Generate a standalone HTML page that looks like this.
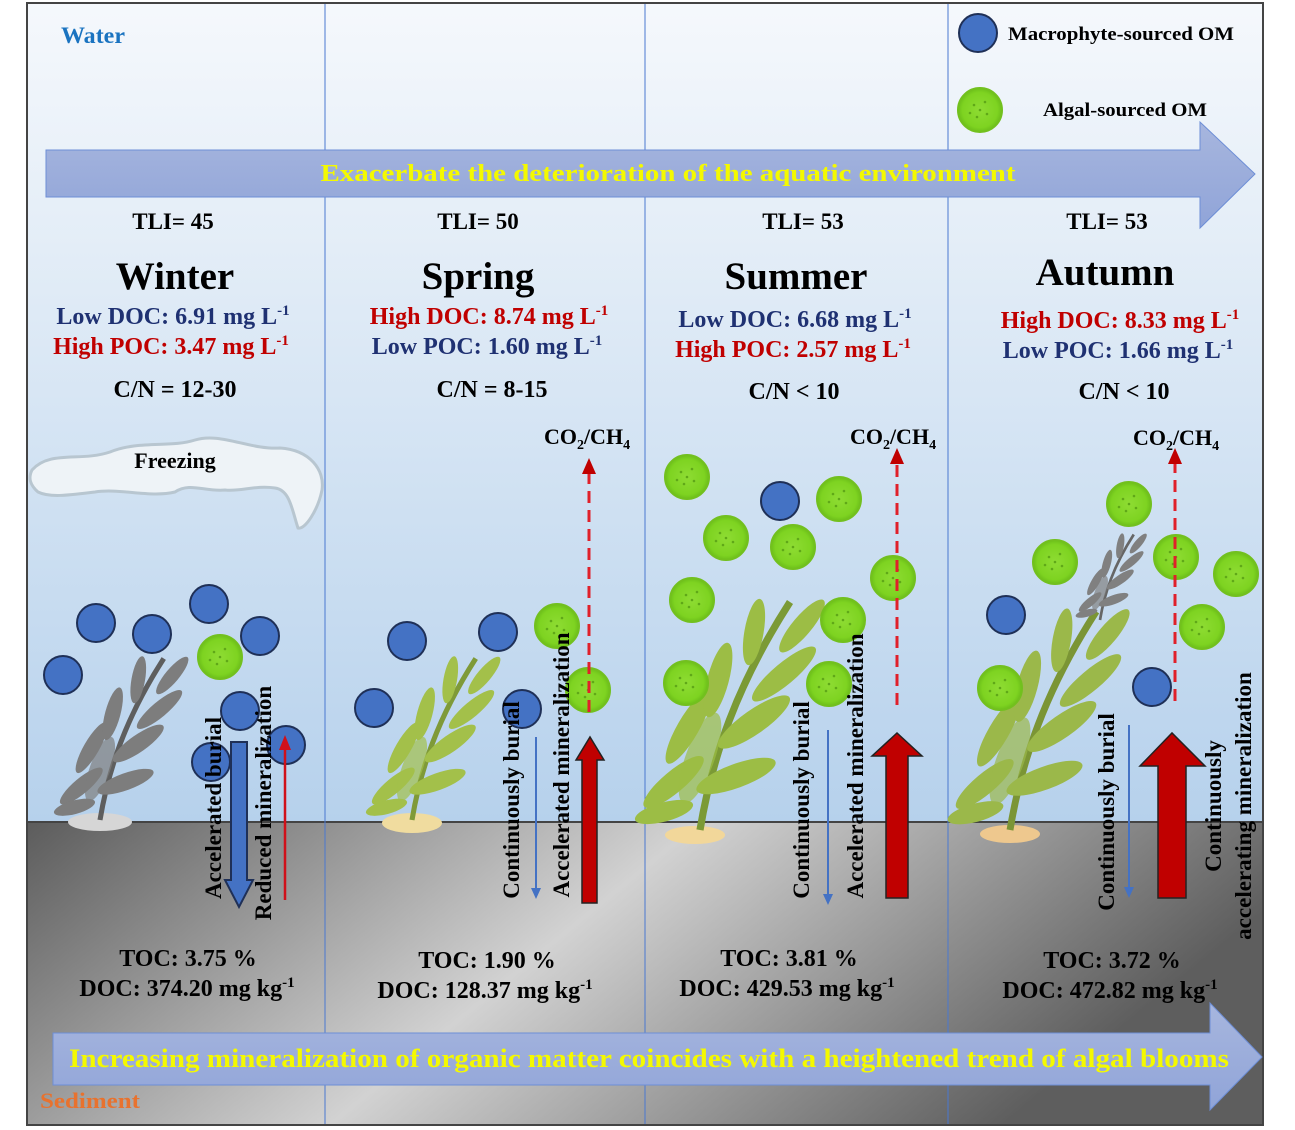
<!DOCTYPE html>
<html><head><meta charset="utf-8"><style>
html,body{margin:0;padding:0;background:#fff;}
svg{display:block;}
text{font-family:"Liberation Serif",serif;font-weight:bold;}
</style></head><body>
<svg width="1295" height="1130" viewBox="0 0 1295 1130" xmlns="http://www.w3.org/2000/svg">
<defs>
<linearGradient id="wat" x1="0" y1="0" x2="0" y2="1">
<stop offset="0" stop-color="#f5f8fc"/><stop offset="0.3" stop-color="#e3edf7"/><stop offset="1" stop-color="#b6d1ec"/></linearGradient>
<linearGradient id="sed" x1="0" y1="0" x2="1" y2="0.3">
<stop offset="0" stop-color="#5c5c5c"/><stop offset="0.5" stop-color="#d2d2d2"/><stop offset="1" stop-color="#5e5e5e"/></linearGradient>
<linearGradient id="arr" x1="0" y1="0" x2="0" y2="1">
<stop offset="0" stop-color="#a7b6de"/><stop offset="1" stop-color="#90a4d8"/></linearGradient>
<radialGradient id="alg"><stop offset="0" stop-color="#8edc33"/><stop offset="0.8" stop-color="#7ed321"/><stop offset="1" stop-color="#6cbf1a"/></radialGradient>
<g id="G"><circle r="22" fill="url(#alg)" stroke="#72c01e" stroke-width="2"/><circle cx="-6" cy="-5" r="1.3" fill="#5fa818"/><circle cx="5" cy="-8" r="1.3" fill="#5fa818"/><circle cx="7" cy="4" r="1.3" fill="#5fa818"/><circle cx="-3" cy="7" r="1.3" fill="#5fa818"/><circle cx="0" cy="0" r="1.3" fill="#5fa818"/><circle cx="-10" cy="3" r="1.3" fill="#5fa818"/></g>
<g id="B"><circle r="19" fill="#4472c4" stroke="#1f3057" stroke-width="2"/></g>
<g id="P">
<path d="M0,0 C10,-60 30,-120 75,-190" stroke="currentColor" stroke-width="6" fill="none"/>
<ellipse cx="-22" cy="-40" rx="32" ry="9" transform="rotate(-40 -22 -40)"/>
<ellipse cx="30" cy="-45" rx="35" ry="10" transform="rotate(-20 30 -45)"/>
<ellipse cx="-10" cy="-85" rx="34" ry="9" transform="rotate(-60 -10 -85)"/>
<ellipse cx="45" cy="-90" rx="36" ry="10" transform="rotate(-35 45 -90)"/>
<ellipse cx="15" cy="-125" rx="32" ry="9" transform="rotate(-75 15 -125)"/>
<ellipse cx="70" cy="-130" rx="34" ry="9" transform="rotate(-40 70 -130)"/>
<ellipse cx="45" cy="-165" rx="28" ry="8" transform="rotate(-80 45 -165)"/>
<ellipse cx="85" cy="-170" rx="28" ry="8" transform="rotate(-50 85 -170)"/>
<ellipse cx="-30" cy="-15" rx="25" ry="8" transform="rotate(-15 -30 -15)"/>
<ellipse cx="0" cy="-60" rx="40" ry="12" transform="rotate(-70 0 -60)" opacity="0.7"/>
</g>
</defs>
<rect x="27" y="3" width="1236" height="820" fill="url(#wat)"/>
<rect x="27" y="822" width="1236" height="303" fill="url(#sed)"/>
<line x1="27" y1="822" x2="1263" y2="822" stroke="#444" stroke-width="2"/>
<g stroke="#4a78d0" stroke-width="1"><line x1="325" y1="3" x2="325" y2="1125"/><line x1="645" y1="3" x2="645" y2="1125"/><line x1="948" y1="3" x2="948" y2="1125"/></g>
<rect x="27" y="3" width="1236" height="1122" fill="none" stroke="#444" stroke-width="2"/>

<text x="61" y="43" font-size="23" fill="#1a73c0" textLength="64" lengthAdjust="spacingAndGlyphs">Water</text>
<text x="40" y="1108" font-size="22" fill="#e8722e" textLength="100" lengthAdjust="spacingAndGlyphs">Sediment</text>

<use href="#B" x="978" y="33"/><text x="1008" y="40" font-size="19" textLength="226" lengthAdjust="spacingAndGlyphs">Macrophyte-sourced OM</text>
<use href="#G" x="980" y="110"/><text x="1043" y="116" font-size="19" textLength="164" lengthAdjust="spacingAndGlyphs">Algal-sourced OM</text>

<path d="M46,150 H1200 V122 L1255,174 L1200,228 V197 H46 Z" fill="url(#arr)" stroke="#6d8ed6" stroke-width="1"/>
<text x="668" y="181" font-size="24" fill="#f4f900" text-anchor="middle" textLength="695" lengthAdjust="spacingAndGlyphs">Exacerbate the deterioration of the aquatic environment</text>
<path d="M53,1033 H1210 V1003 L1262,1057 L1210,1110 V1085 H53 Z" fill="url(#arr)" stroke="#6d8ed6" stroke-width="1"/>
<text x="649" y="1067" font-size="26" fill="#f4f900" text-anchor="middle" textLength="1160" lengthAdjust="spacingAndGlyphs">Increasing mineralization of organic matter coincides with a heightened trend of algal blooms</text>

<g font-size="23" text-anchor="middle">
<text x="173" y="229">TLI= 45</text><text x="478" y="229">TLI= 50</text><text x="803" y="229">TLI= 53</text><text x="1107" y="229">TLI= 53</text>
</g>
<g font-size="39" text-anchor="middle">
<text x="175" y="289">Winter</text><text x="478" y="289">Spring</text><text x="796" y="289">Summer</text><text x="1105" y="285">Autumn</text>
</g>
<g font-size="24" text-anchor="middle">
<text x="173" y="324" fill="#1f3172">Low DOC: 6.91 mg L<tspan font-size="15" dy="-9">-1</tspan></text>
<text x="171" y="354" fill="#c00000">High POC: 3.47 mg L<tspan font-size="15" dy="-9">-1</tspan></text>
<text x="489" y="324" fill="#c00000">High DOC: 8.74 mg L<tspan font-size="15" dy="-9">-1</tspan></text>
<text x="487" y="354" fill="#1f3172">Low POC: 1.60 mg L<tspan font-size="15" dy="-9">-1</tspan></text>
<text x="795" y="327" fill="#1f3172">Low DOC: 6.68 mg L<tspan font-size="15" dy="-9">-1</tspan></text>
<text x="793" y="357" fill="#c00000">High POC: 2.57 mg L<tspan font-size="15" dy="-9">-1</tspan></text>
<text x="1120" y="328" fill="#c00000">High DOC: 8.33 mg L<tspan font-size="15" dy="-9">-1</tspan></text>
<text x="1118" y="358" fill="#1f3172">Low POC: 1.66 mg L<tspan font-size="15" dy="-9">-1</tspan></text>
<text x="175" y="397">C/N = 12-30</text><text x="492" y="397">C/N = 8-15</text><text x="794" y="399">C/N &lt; 10</text><text x="1124" y="399">C/N &lt; 10</text>
</g>
<g font-size="22" text-anchor="middle">
<text x="587" y="444">CO<tspan font-size="14" dy="5">2</tspan><tspan dy="-5">/CH</tspan><tspan font-size="14" dy="5">4</tspan></text>
<text x="893" y="444">CO<tspan font-size="14" dy="5">2</tspan><tspan dy="-5">/CH</tspan><tspan font-size="14" dy="5">4</tspan></text>
<text x="1176" y="445">CO<tspan font-size="14" dy="5">2</tspan><tspan dy="-5">/CH</tspan><tspan font-size="14" dy="5">4</tspan></text>
</g>

<!-- ice -->
<path d="M32,470 C50,450 80,462 110,452 C140,440 170,448 195,440 C220,432 250,450 280,448 C310,450 325,470 322,490 C318,510 305,530 298,528 C292,510 290,490 275,488 C255,485 240,492 225,490 C205,492 190,482 175,492 C150,498 120,488 95,492 C70,495 50,498 38,492 C30,485 28,478 32,470 Z" fill="#eef3f7" stroke="#b8c6d0" stroke-width="3"/>
<text x="175" y="468" font-size="22" text-anchor="middle">Freezing</text>

<!-- plants -->
<ellipse cx="100" cy="822" rx="32" ry="9" fill="#d6d6d6"/>
<g fill="#7d7d7d" color="#5e5e5e" transform="translate(100,820) scale(0.85)"><use href="#P"/></g>
<ellipse cx="412" cy="823" rx="30" ry="10" fill="#f0dc9f"/>
<g fill="#a3c04a" color="#7f9a38" transform="translate(412,820) scale(0.85)"><use href="#P"/></g>
<ellipse cx="695" cy="835" rx="30" ry="9" fill="#f2d79a"/>
<g fill="#9cbd45" color="#7b9a35" transform="translate(700,830) scale(1.2)"><use href="#P"/></g>
<ellipse cx="1010" cy="834" rx="30" ry="9" fill="#eec88e"/>
<g fill="#9bb84a" color="#7b9535" transform="translate(1010,830) scale(1.15)"><use href="#P"/></g>
<g fill="#808080" color="#666" transform="translate(1100,620) scale(0.45)"><use href="#P"/></g>

<use href="#B" x="96" y="623"/><use href="#B" x="152" y="634"/><use href="#B" x="209" y="604"/><use href="#B" x="260" y="636"/><use href="#B" x="63" y="675"/><use href="#B" x="240" y="711"/><use href="#B" x="286" y="745"/><use href="#B" x="211" y="762"/><use href="#G" x="220" y="657"/>
<use href="#B" x="407" y="641"/><use href="#B" x="498" y="632"/><use href="#B" x="374" y="708"/><use href="#B" x="522" y="709"/><use href="#G" x="557" y="626"/><use href="#G" x="588" y="690"/>
<use href="#G" x="687" y="477"/><use href="#G" x="839" y="499"/><use href="#G" x="726" y="538"/><use href="#G" x="793" y="547"/><use href="#G" x="692" y="600"/><use href="#G" x="893" y="578"/><use href="#G" x="843" y="620"/><use href="#G" x="686" y="683"/><use href="#G" x="829" y="684"/><use href="#B" x="780" y="501"/>
<use href="#G" x="1129" y="504"/><use href="#G" x="1055" y="562"/><use href="#G" x="1176" y="557"/><use href="#G" x="1236" y="574"/><use href="#G" x="1202" y="627"/><use href="#G" x="1000" y="688"/><use href="#B" x="1006" y="615"/><use href="#B" x="1152" y="687"/>

<g stroke="#e0202a" stroke-width="3" stroke-dasharray="12,7">
<line x1="589" y1="712" x2="589" y2="472"/><line x1="897" y1="705" x2="897" y2="462"/><line x1="1175" y1="701" x2="1175" y2="462"/>
</g>
<g fill="#c00000"><path d="M582,474 L589,458 L596,474Z"/><path d="M890,464 L897,448 L904,464Z"/><path d="M1168,464 L1175,448 L1182,464Z"/></g>

<path d="M231,742 H247 V880 H253 L239,907 L225,880 H231 Z" fill="#4472c4" stroke="#1f3057" stroke-width="2"/>
<line x1="285" y1="900" x2="285" y2="745" stroke="#d0101a" stroke-width="2.5"/><path d="M279,750 L285,735 L291,750Z" fill="#d0101a"/>
<line x1="536" y1="737" x2="536" y2="890" stroke="#4472c4" stroke-width="2"/><path d="M531,888 L536,899 L541,888Z" fill="#4472c4"/>
<path d="M582,903 V760 H576 L590,737 L604,760 H597 V903 Z" fill="#c00000" stroke="#222" stroke-width="1.5"/>
<line x1="828" y1="730" x2="828" y2="897" stroke="#4472c4" stroke-width="2"/><path d="M823,894 L828,905 L833,894Z" fill="#4472c4"/>
<path d="M886,898 V756 H872 L897,733 L922,756 H908 V898 Z" fill="#c00000" stroke="#222" stroke-width="1.5"/>
<line x1="1129" y1="725" x2="1129" y2="890" stroke="#4472c4" stroke-width="2"/><path d="M1124,887 L1129,898 L1134,887Z" fill="#4472c4"/>
<path d="M1158,898 V766 H1140 L1172,733 L1205,766 H1186 V898 Z" fill="#c00000" stroke="#222" stroke-width="1.5"/>

<g font-size="23" text-anchor="middle">
<text transform="translate(221,808) rotate(-90)">Accelerated burial</text>
<text transform="translate(271,803) rotate(-90)">Reduced mineralization</text>
<text transform="translate(519,800) rotate(-90)">Continuously burial</text>
<text transform="translate(569,765) rotate(-90)">Accelerated mineralization</text>
<text transform="translate(809,800) rotate(-90)">Continuously burial</text>
<text transform="translate(863,766) rotate(-90)">Accelerated mineralization</text>
<text transform="translate(1114,812) rotate(-90)">Continuously burial</text>
<text transform="translate(1221,806) rotate(-90)">Continuously</text>
<text transform="translate(1251,806) rotate(-90)">accelerating mineralization</text>
</g>

<g font-size="24" text-anchor="middle">
<text x="188" y="966">TOC: 3.75 %</text>
<text x="187" y="996">DOC: 374.20 mg kg<tspan font-size="15" dy="-9">-1</tspan></text>
<text x="487" y="968">TOC: 1.90 %</text>
<text x="485" y="998">DOC: 128.37 mg kg<tspan font-size="15" dy="-9">-1</tspan></text>
<text x="789" y="966">TOC: 3.81 %</text>
<text x="787" y="996">DOC: 429.53 mg kg<tspan font-size="15" dy="-9">-1</tspan></text>
<text x="1112" y="968">TOC: 3.72 %</text>
<text x="1110" y="998">DOC: 472.82 mg kg<tspan font-size="15" dy="-9">-1</tspan></text>
</g>
</svg>
</body></html>
